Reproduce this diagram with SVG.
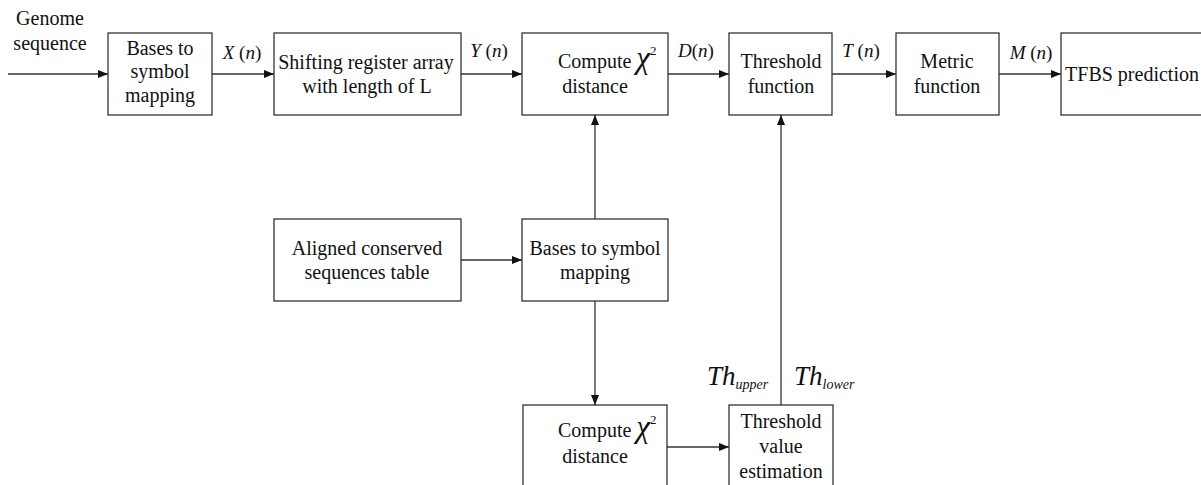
<svg xmlns="http://www.w3.org/2000/svg" width="1201" height="485" viewBox="0 0 1201 485" font-family="'Liberation Serif', 'Times New Roman', serif">
<style>
.box{fill:#fff;stroke:#333;stroke-width:1.3}
text{font-family:'Liberation Serif','Times New Roman',serif;fill:#111}
.t{font-size:20px}
.m{text-anchor:middle}
.l{font-size:19px}
.i{font-style:italic}
.c{stroke:#333;stroke-width:1.3;fill:none;marker-end:url(#ah)}
</style>
<defs>
<marker id="ah" viewBox="0 0 10 10" refX="10" refY="5" markerWidth="10" markerHeight="10" markerUnits="userSpaceOnUse" orient="auto">
<path d="M0,1 L10,5 L0,9 Z" fill="#111"/>
</marker>
</defs>
<rect width="1201" height="485" fill="#fff"/>
<g id="connectors">
<line class="c" x1="8" y1="74" x2="108" y2="74"/>
<line class="c" x1="212" y1="74" x2="274" y2="74"/>
<line class="c" x1="461" y1="74" x2="522" y2="74"/>
<line class="c" x1="668" y1="74" x2="729" y2="74"/>
<line class="c" x1="832" y1="74" x2="896" y2="74"/>
<line class="c" x1="999" y1="74" x2="1061" y2="74"/>
<line class="c" x1="461" y1="260" x2="522" y2="260"/>
<line class="c" x1="595" y1="219" x2="595" y2="115"/>
<line class="c" x1="595" y1="301" x2="595" y2="405"/>
<line class="c" x1="667" y1="447" x2="729" y2="447"/>
<line class="c" x1="781" y1="405" x2="781" y2="115"/>
<text class="l m" x="242" y="59"><tspan class="i">X</tspan> (<tspan class="i">n</tspan>)</text>
<text class="l m" x="489" y="57"><tspan class="i">Y</tspan> (<tspan class="i">n</tspan>)</text>
<text class="l m" x="696" y="57"><tspan class="i">D</tspan>(<tspan class="i">n</tspan>)</text>
<text class="l m" x="861" y="57"><tspan class="i">T</tspan> (<tspan class="i">n</tspan>)</text>
<text class="l m" x="1031" y="59"><tspan class="i">M</tspan> (<tspan class="i">n</tspan>)</text>
<text class="i" x="707" y="385" font-size="27">Th<tspan font-size="14" dy="4">upper</tspan></text>
<text class="i" x="794" y="385" font-size="27">Th<tspan font-size="14" dy="4">lower</tspan></text>
</g>
<g id="genome-label">
<text class="t m" x="50" y="25">Genome</text>
<text class="t m" x="50" y="50">sequence</text>
</g>
<g id="bases-mapping-1">
<rect class="box" x="108" y="33" width="104" height="82"/>
<text class="t m" x="160" y="55">Bases to</text>
<text class="t m" x="160" y="78">symbol</text>
<text class="t m" x="160" y="102">mapping</text>
</g>
<g id="shift-register">
<rect class="box" x="274" y="33" width="187" height="82"/>
<text class="t m" x="366" y="69">Shifting register array</text>
<text class="t m" x="367" y="93">with length of L</text>
</g>
<g id="compute-chi-1">
<rect class="box" x="522" y="33" width="146" height="82"/>
<text class="t" x="558" y="68">Compute <tspan class="i" font-size="31">χ</tspan><tspan font-size="13" dy="-13" dx="0">2</tspan></text>
<text class="t m" x="595" y="93">distance</text>
</g>
<g id="threshold-function">
<rect class="box" x="729" y="33" width="103" height="82"/>
<text class="t m" x="781" y="68">Threshold</text>
<text class="t m" x="781" y="93">function</text>
</g>
<g id="metric-function">
<rect class="box" x="896" y="33" width="103" height="82"/>
<text class="t m" x="947" y="68">Metric</text>
<text class="t m" x="947" y="93">function</text>
</g>
<g id="tfbs-prediction">
<rect class="box" x="1061" y="33" width="150" height="82"/>
<text class="t m" x="1132" y="81">TFBS prediction</text>
</g>
<g id="aligned-table">
<rect class="box" x="274" y="219" width="187" height="82"/>
<text class="t m" x="367" y="255">Aligned conserved</text>
<text class="t m" x="367" y="279">sequences table</text>
</g>
<g id="bases-mapping-2">
<rect class="box" x="522" y="219" width="146" height="82"/>
<text class="t m" x="595" y="255">Bases to symbol</text>
<text class="t m" x="595" y="279">mapping</text>
</g>
<g id="compute-chi-2">
<rect class="box" x="523" y="405" width="144" height="90"/>
<text class="t" x="558" y="437">Compute <tspan class="i" font-size="31">χ</tspan><tspan font-size="13" dy="-13" dx="0">2</tspan></text>
<text class="t m" x="595" y="463">distance</text>
</g>
<g id="threshold-estimation">
<rect class="box" x="729" y="405" width="104" height="90"/>
<text class="t m" x="781" y="428">Threshold</text>
<text class="t m" x="781" y="453">value</text>
<text class="t m" x="781" y="478">estimation</text>
</g>
</svg>
